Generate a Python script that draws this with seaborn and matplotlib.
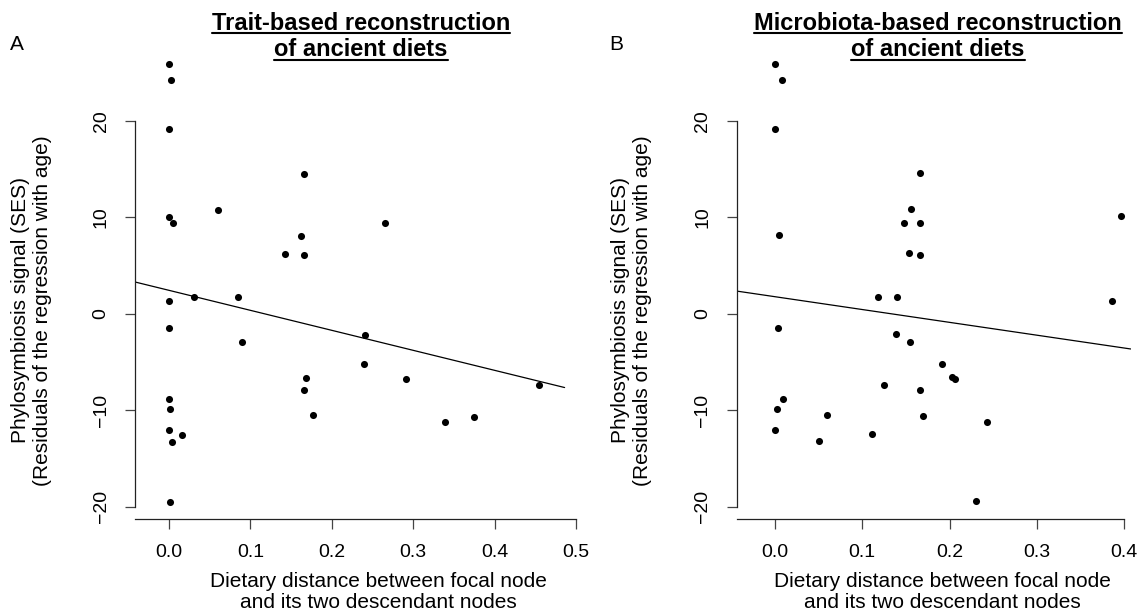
import matplotlib
matplotlib.use("Agg")
import matplotlib.pyplot as plt
import seaborn as sns
from matplotlib.lines import Line2D

# ---- data ----
trait_x = [0.000, 0.0025, 0.000, 0.166, 0.060, 0.000, 0.0045, 0.162, 0.142, 0.166,
           0.000, 0.0306, 0.0846, 0.000, 0.0898, 0.168, 0.166, 0.177, 0.000, 0.001,
           0.000, 0.016, 0.0037, 0.0016, 0.266, 0.2406, 0.240, 0.291, 0.339, 0.375,
           0.455]
trait_y = [25.85, 24.2, 19.2, 14.5, 10.8, 10.07, 9.39, 8.1, 6.24, 6.07,
           1.35, 1.79, 1.79, -1.52, -2.93, -6.63, -7.9, -10.5, -8.87, -9.87,
           -12.04, -12.56, -13.25, -19.46, 9.39, -2.17, -5.2, -6.73, -11.2, -10.66,
           -7.38]

micro_x = [0.000, 0.008, 0.000, 0.0049, 0.0034, 0.0092, 0.0023, 0.000, 0.0602, 0.051,
           0.1117, 0.1247, 0.1185, 0.1396, 0.1384, 0.1548, 0.1556, 0.1483, 0.1533, 0.1662,
           0.1662, 0.1662, 0.1914, 0.203, 0.206, 0.1662, 0.1697, 0.2429, 0.2303, 0.3966,
           0.3863]
micro_y = [25.9, 24.2, 19.2, 8.15, -1.49, -8.86, -9.86, -12.03, -10.45, -13.2,
           -12.5, -7.37, 1.79, 1.79, -2.11, -2.9, 10.89, 9.44, 6.29, 14.55,
           9.44, 6.12, -5.19, -6.6, -6.75, -7.85, -10.6, -11.2, -19.4, 10.09,
           1.38]

trait_xticks = [0.0, 0.1, 0.2, 0.3, 0.4, 0.5]
micro_xticks = [0.0, 0.1, 0.2, 0.3, 0.4]
yticks = [-20, -10, 0, 10, 20]

titles = [["Trait-based reconstruction", "of ancient diets"],
          ["Microbiota-based reconstruction", "of ancient diets"]]
panel_letters = ["A", "B"]
xlabel = "Dietary distance between focal node\nand its two descendant nodes"
ylabel = "Phylosymbiosis signal (SES)\n(Residuals of the regression with age)"

sns.set_theme(style="ticks")
plt.rcParams['font.family'] = ['Liberation Sans', 'DejaVu Sans']
plt.rcParams['text.color'] = 'black'
plt.rcParams['axes.labelcolor'] = 'black'
plt.rcParams['xtick.color'] = 'black'
plt.rcParams['ytick.color'] = 'black'

W, H = 1141, 615
fig = plt.figure(figsize=(W / 100, H / 100), dpi=100)


def px_axes(left, right, top, bottom):
    return fig.add_axes([left / W, 1 - bottom / H, (right - left) / W, (bottom - top) / H])


axA = px_axes(135, 576, 55, 519)
axB = px_axes(736.7, 1130.7, 55, 519)

configs = [
    (axA, trait_x, trait_y, trait_xticks, (-0.0417, 0.486), (-0.0417, 0.5), 0.5, 0.553, -0.2347),
    (axB, micro_x, micro_y, micro_xticks, (-0.0435, 0.4073), (-0.0435, 0.4073), 0.4, 0.521, -0.267),
]

for ax, xs, ys, xt, line_lim, final_lim, xend, xl_x, yl_x in configs:
    ax.set_ylim(-21.27, 26.83)
    ax.set_xlim(*line_lim)
    sns.regplot(x=xs, y=ys, ax=ax, scatter=False, ci=None, truncate=False,
                color="black", line_kws={"linewidth": 0.9})
    sns.scatterplot(x=xs, y=ys, ax=ax, color="black", s=26, linewidth=0)
    ax.set_xlim(*final_lim)
    ax.set_ylim(-21.27, 26.83)
    ax.set_xticks(xt)
    ax.set_xticklabels([f"{v:.1f}" for v in xt])
    ax.set_yticks(yticks)
    ax.set_yticklabels([str(v).replace("-", "\u2212") for v in yticks])
    for lbl in ax.get_yticklabels():
        lbl.set_rotation(90)
        lbl.set_va("center")
    sns.despine(ax=ax)
    ax.spines["left"].set_bounds(-20, 20)
    ax.spines["bottom"].set_bounds(final_lim[0], xend)
    for s in ("left", "bottom"):
        ax.spines[s].set_linewidth(0.9)
        ax.spines[s].set_color("#222222")
    ax.tick_params(axis="both", length=7.2, width=0.9, color="#444444",
                   labelsize=14, labelcolor="black", pad=11)
    ax.set_xlabel(xlabel, fontsize=15, linespacing=1.15, color="black")
    ax.xaxis.label.set_va("center")
    ax.xaxis.set_label_coords(xl_x, -0.157)
    ax.set_ylabel(ylabel, fontsize=15, linespacing=1.15, color="black")
    ax.yaxis.label.set_va("center")
    ax.yaxis.set_label_coords(yl_x, 0.45)

# panel letters
fig.text(17 / W, 1 - 44 / H, panel_letters[0], fontsize=15, ha="center", va="center", color="black")
fig.text(616 / W, 1 - 44 / H, panel_letters[1], fontsize=15, ha="center", va="center", color="black")

# titles (bold, underlined)
title_texts = []
for cx, lines in zip([361, 938], titles):
    for base, line in zip([29.5, 56.5], lines):
        t = fig.text(cx / W, 1 - base / H, line, fontsize=17, fontweight="bold",
                     ha="center", va="baseline", color="black")
        title_texts.append((t, base))

fig.canvas.draw()
renderer = fig.canvas.get_renderer()
for t, base in title_texts:
    bb = t.get_window_extent(renderer=renderer)
    yline = 1 - (base + 3.0) / H
    fig.add_artist(Line2D([bb.x0 / W, bb.x1 / W], [yline, yline],
                          transform=fig.transFigure, color="black", linewidth=1.5))

fig.savefig("out.png", dpi=100)
